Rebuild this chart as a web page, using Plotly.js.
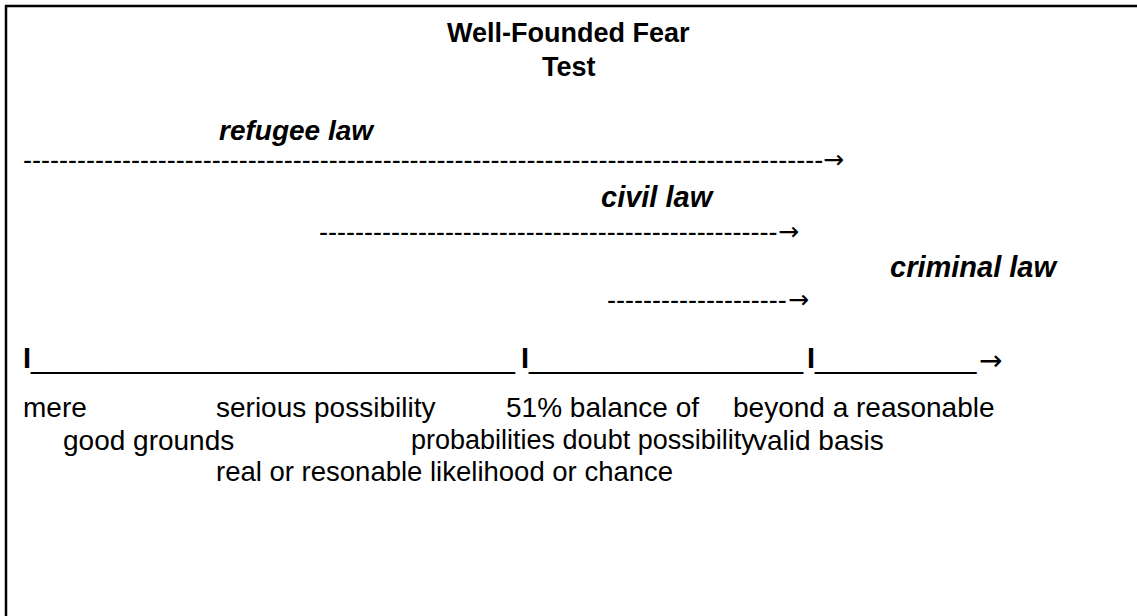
<!DOCTYPE html>
<html>
<head>
<meta charset="utf-8">
<script src="https://cdn.plot.ly/plotly-3.0.1.min.js"></script>
<style>
html,body{margin:0;padding:0;background:#fff;}
#chart{width:1137px;height:616px;}
</style>
</head>
<body>
<div id="chart"></div>
<script>
// ---- content ----
const titleLines = ['Well-Founded Fear', 'Test'];
const lawLabels = ['refugee law', 'civil law', 'criminal law'];
const lawDashCounts = [89, 51, 20];
const scaleMarks = ['I', 'I', 'I'];
const scaleUnderscoreCounts = [30, 17, 10];
const standardRow1 = ['mere', 'serious possibility', '51% balance of', 'beyond a reasonable'];
const standardRow2 = ['good grounds', 'probabilities doubt possibility', 'valid basis'];
const standardRow3 = ['real or resonable likelihood or chance'];
const arrowGlyph = '\u2192';

// ---- layout (pixel positions) ----
const W = 1137, H = 616;
const FONT = 'Liberation Sans, Arial, sans-serif';
const ARROW_FONT = 'DejaVu Sans';
const titleY = [33, 67];
const lawLabelX = [218, 600, 889];
const lawLabelY = [130, 197, 267];
const lawLabelSize = [28, 29, 29];
const lawLineX = [22, 318, 606];
const lawLineY = [160, 232, 300];
const lawArrowX = [822, 777, 787];
const scaleX = [22, 520, 806];
const scaleY = 358;
const scaleArrowX = 978;
// [x, anchor, size]
const rowPos = [
  [[22, 'left', 28], [215, 'left', 28], [505, 'left', 28], [996, 'right', 28]],
  [[62, 'left', 28], [410, 'left', 27], [752, 'left', 28]],
  [[215, 'left', 27.5]]
];
const rowY = [407, 440, 471];

const ann = [];
function add(text, x, y, size, opts) {
  ann.push(Object.assign({
    text: text, x: x, y: y, xref: 'x', yref: 'y',
    xanchor: 'left', yanchor: 'middle', showarrow: false,
    font: {family: FONT, size: size, color: '#000'}, borderpad: 0
  }, opts || {}));
}
titleLines.forEach((t, i) => add('<b>' + t + '</b>', W / 2, titleY[i], 27, {xanchor: 'center'}));
lawLabels.forEach((t, i) => {
  add('<b><i>' + t + '</i></b>', lawLabelX[i], lawLabelY[i], lawLabelSize[i]);
  add('-'.repeat(lawDashCounts[i]), lawLineX[i], lawLineY[i], 27);
  add(arrowGlyph, lawArrowX[i], lawLineY[i] - 1, 25, {font: {family: ARROW_FONT, size: 25, color: '#000'}});
});
scaleMarks.forEach((m, i) => {
  add('<b>' + m + '</b>' + '_'.repeat(scaleUnderscoreCounts[i]), scaleX[i], scaleY, 29);
});
add(arrowGlyph, scaleArrowX, scaleY + 2, 28, {font: {family: ARROW_FONT, size: 28, color: '#000'}});
[standardRow1, standardRow2, standardRow3].forEach((row, r) => {
  row.forEach((t, i) => add(t, rowPos[r][i][0], rowY[r], rowPos[r][i][2], {xanchor: rowPos[r][i][1]}));
});

const layout = {
  width: W, height: H,
  margin: {l: 0, r: 0, t: 0, b: 0},
  paper_bgcolor: '#fff', plot_bgcolor: '#fff',
  xaxis: {range: [0, W], visible: false, fixedrange: true},
  yaxis: {range: [H, 0], visible: false, fixedrange: true},
  showlegend: false,
  annotations: ann,
  shapes: [{type: 'rect', xref: 'x', yref: 'y', x0: 6, y0: 6, x1: W + 20, y1: H + 20,
            line: {color: '#000', width: 2.5}, fillcolor: 'rgba(0,0,0,0)'}]
};
Plotly.newPlot('chart', [{x: [], y: [], type: 'scatter', mode: 'markers', hoverinfo: 'skip'}], layout,
  {staticPlot: true, displayModeBar: false});
</script>
</body>
</html>
